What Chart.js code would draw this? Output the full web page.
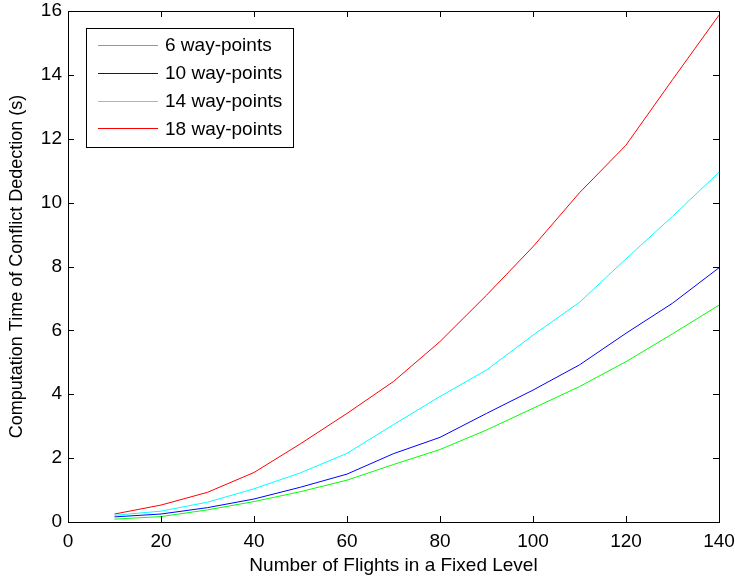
<!DOCTYPE html>
<html lang="en">
<head>
    <meta charset="UTF-8">
    <title>Conflict detection time</title>
    <script src="https://cdn.jsdelivr.net/npm/chart.js"></script>
    <style>
        body { margin:0; background:#fff; }
        #wrap { width:735px; height:578px; }
    </style>
</head>
<body>
<div id="wrap"><canvas id="timeChart"></canvas></div>
<script>
    // number of flights in a fixed level
    const flights = [10, 20, 30, 40, 50, 60, 70, 80, 90, 100, 110, 120, 130, 140];

    const wp6  = [0.09, 0.17, 0.38, 0.64, 0.95, 1.31, 1.80, 2.27, 2.88, 3.56, 4.24, 5.02, 5.89, 6.79];
    const wp10 = [0.16, 0.25, 0.45, 0.72, 1.09, 1.50, 2.14, 2.65, 3.40, 4.13, 4.92, 5.91, 6.85, 7.96];
    const wp14 = [0.21, 0.34, 0.62, 1.04, 1.54, 2.15, 3.05, 3.93, 4.76, 5.85, 6.88, 8.24, 9.57, 10.95];
    const wp18 = [0.25, 0.53, 0.93, 1.55, 2.45, 3.40, 4.40, 5.65, 7.10, 8.62, 10.31, 11.80, 13.85, 15.87];

    const seriesLabels = ['6 way-points', '10 way-points', '14 way-points', '18 way-points'];
    const seriesColors = ['#00ff00', '#0000ff', '#00ffff', '#ff0000'];

    const xTicks = [0, 20, 40, 60, 80, 100, 120, 140];
    const yTicks = [0, 2, 4, 6, 8, 10, 12, 14, 16];

    const FONT = 'Liberation Sans, Arial, sans-serif';

    function toPoints(vals) {
        return flights.map((f, i) => ({ x: f, y: vals[i] }));
    }

    function noPad(s) {
        s.paddingTop = 0; s.paddingBottom = 0; s.paddingLeft = 0; s.paddingRight = 0;
    }

    // matlab style box, inward ticks and a legend inside the axes
    const matlabBox = {
        id: 'matlabBox',
        afterDraw(chart) {
            const { ctx, chartArea: a, scales } = chart;
            ctx.save();
            ctx.strokeStyle = '#000';
            ctx.lineWidth = 1;
            ctx.beginPath();
            for (const v of xTicks) {
                const px = Math.round(scales.x.getPixelForValue(v)) + 0.5;
                ctx.moveTo(px, a.bottom); ctx.lineTo(px, a.bottom - 6);
                ctx.moveTo(px, a.top); ctx.lineTo(px, a.top + 6);
            }
            for (const v of yTicks) {
                const py = Math.round(scales.y.getPixelForValue(v)) + 0.5;
                ctx.moveTo(a.left, py); ctx.lineTo(a.left + 6, py);
                ctx.moveTo(a.right, py); ctx.lineTo(a.right - 6, py);
            }
            ctx.stroke();
            ctx.strokeRect(Math.round(a.left) + 0.5, Math.round(a.top) + 0.5,
                Math.round(a.right - a.left), Math.round(a.bottom - a.top));

            // legend
            const lx = a.left + 18, ly = a.top + 17, lw = 207, lh = 119;
            ctx.fillStyle = '#fff';
            ctx.fillRect(lx, ly, lw, lh);
            ctx.strokeStyle = '#000';
            ctx.strokeRect(lx + 0.5, ly + 0.5, lw, lh);
            ctx.font = '19px ' + FONT;
            ctx.textBaseline = 'middle';
            chart.data.datasets.forEach((ds, i) => {
                const ry = ly + 17 + i * 27.8;
                ctx.strokeStyle = ds.borderColor;
                ctx.lineWidth = 1.2;
                ctx.beginPath();
                ctx.moveTo(lx + 12, Math.round(ry) + 0.5);
                ctx.lineTo(lx + 72, Math.round(ry) + 0.5);
                ctx.stroke();
                ctx.fillStyle = '#000';
                ctx.fillText(ds.label, lx + 79, ry + 1);
            });
            ctx.restore();
        }
    };

    const ctx = document.getElementById('timeChart').getContext('2d');
    const chart = new Chart(ctx, {
        type: 'line',
        data: {
            datasets: [wp6, wp10, wp14, wp18].map((vals, i) => ({
                label: seriesLabels[i],
                data: toPoints(vals),
                borderColor: seriesColors[i],
                backgroundColor: seriesColors[i],
                borderWidth: 1,
                pointRadius: 0,
                tension: 0,
                fill: false
            }))
        },
        options: {
            responsive: true,
            maintainAspectRatio: false,
            animation: false,
            layout: { padding: { top: 11, right: 16, left: 0, bottom: 0 } },
            plugins: { legend: { display: false }, tooltip: { enabled: false } },
            scales: {
                x: {
                    type: 'linear',
                    min: 0, max: 140,
                    afterFit(s) { s.height = 56; noPad(s); },
                    afterBuildTicks(s) { s.ticks = xTicks.map(v => ({ value: v })); },
                    grid: { display: false, drawTicks: false },
                    border: { display: false },
                    ticks: { color: '#000', font: { family: FONT, size: 19 }, padding: 8, maxRotation: 0 },
                    title: { display: true, text: 'Number of Flights in a Fixed Level', color: '#000',
                             font: { family: FONT, size: 19 }, padding: { top: 0, bottom: 1 } }
                },
                y: {
                    min: 0, max: 16,
                    afterFit(s) { s.width = 68; noPad(s); },
                    afterBuildTicks(s) { s.ticks = yTicks.map(v => ({ value: v })); },
                    grid: { display: false, drawTicks: false },
                    border: { display: false },
                    ticks: { color: '#000', font: { family: FONT, size: 19 }, padding: 6 },
                    title: { display: true, text: 'Computation Time of Conflict Dedection (s)', color: '#000',
                             font: { family: FONT, size: 18 }, padding: { top: 6, bottom: 0 } }
                }
            }
        },
        plugins: [matlabBox]
    });
</script>
</body>
</html>
